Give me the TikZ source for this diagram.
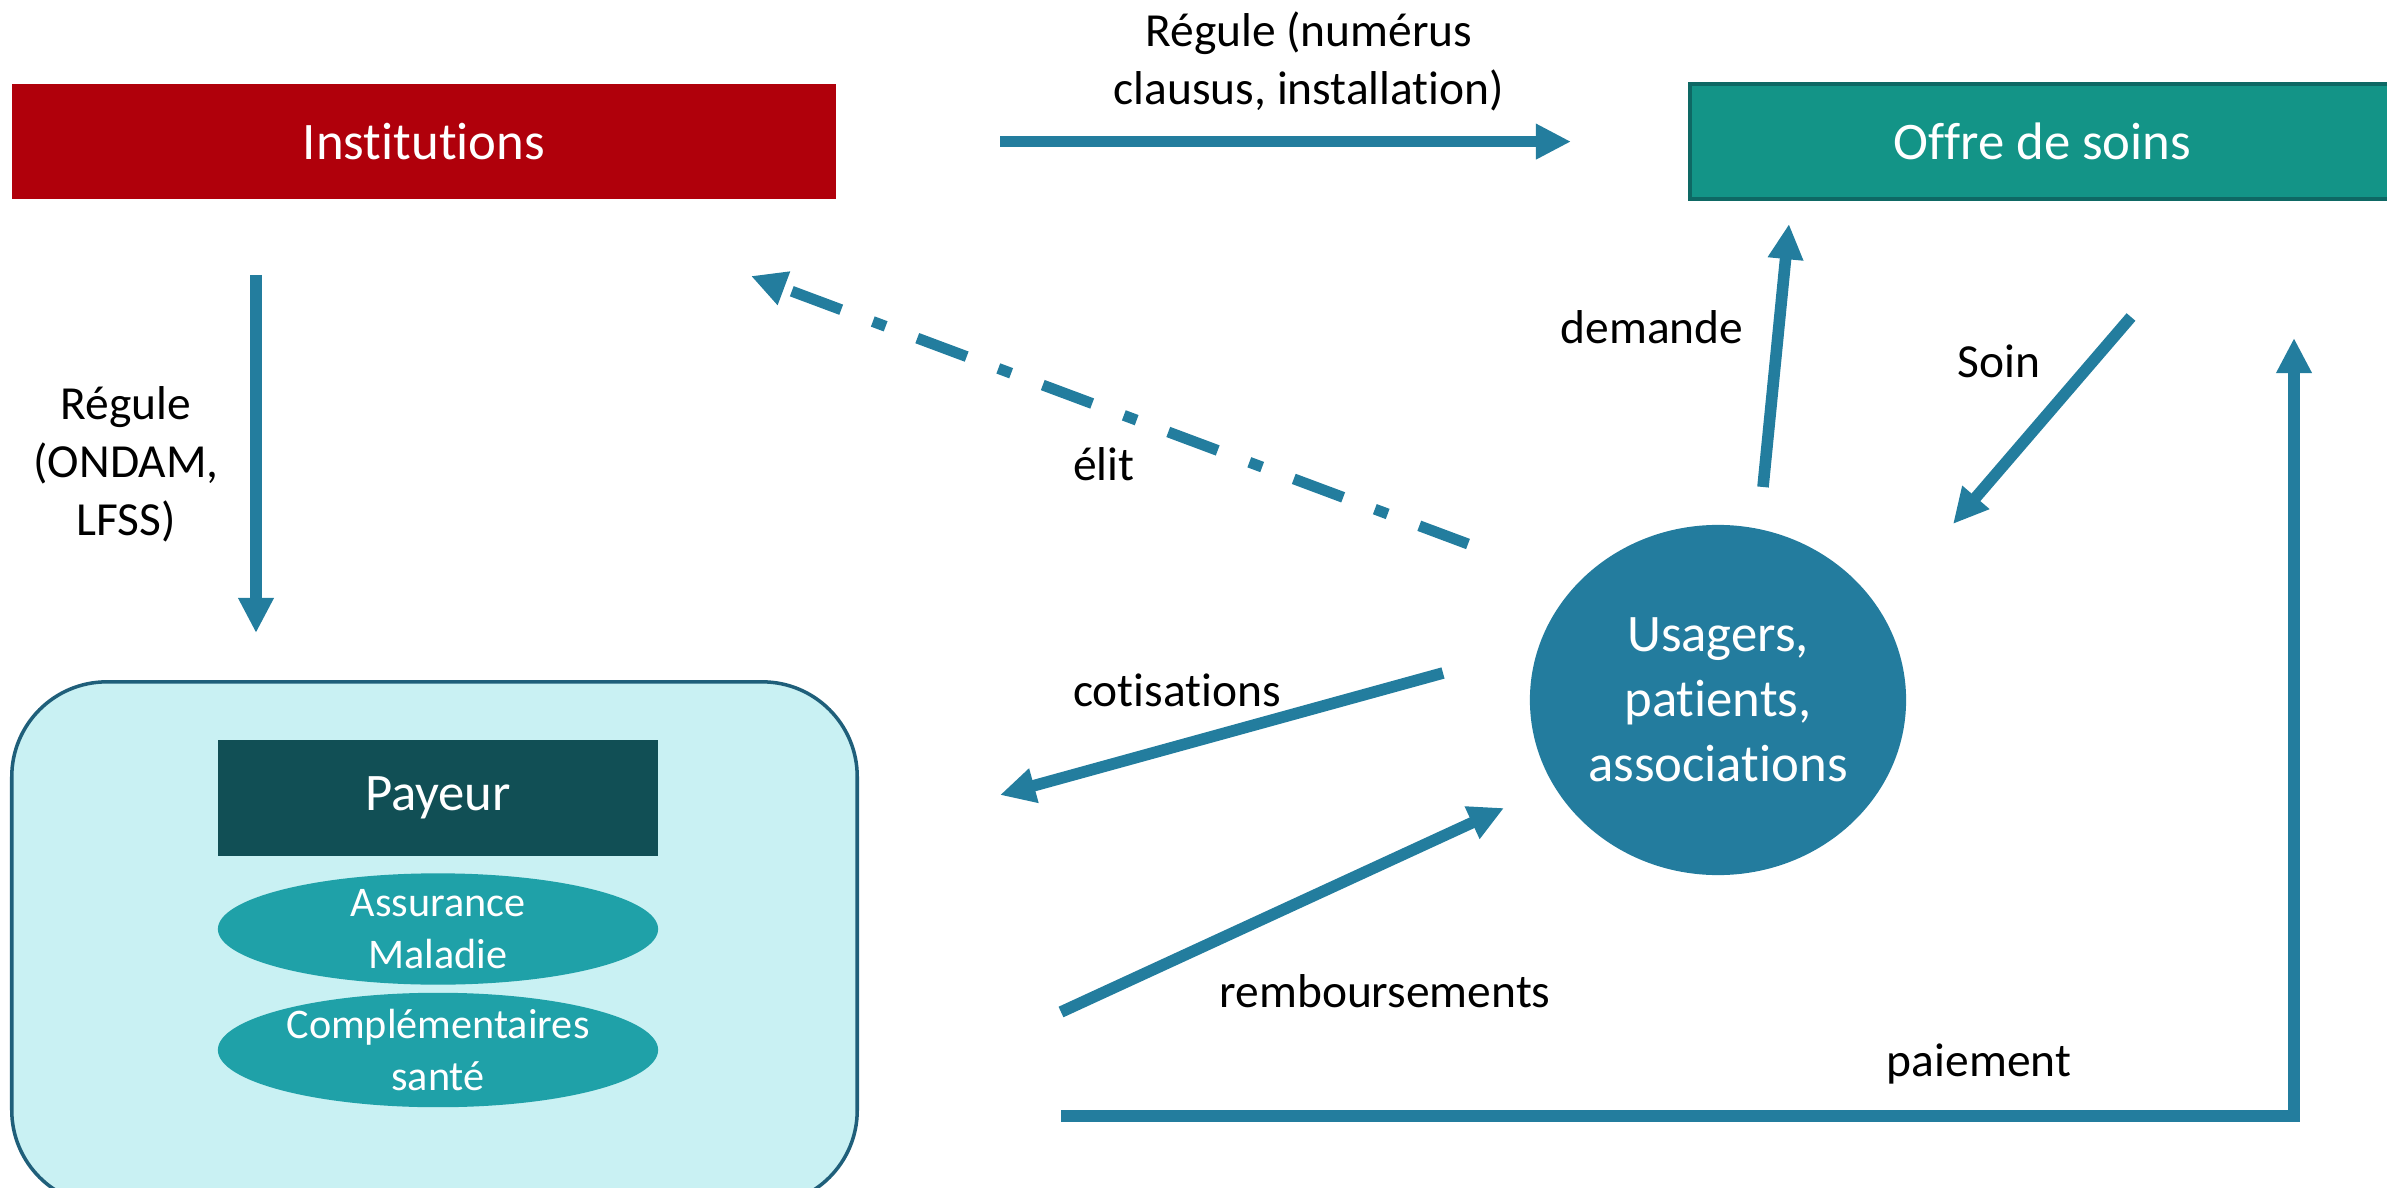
\documentclass[tikz,border=0pt]{standalone}
\usepackage{fontspec}
\setmainfont{Carlito}[Ligatures={NoCommon,NoContextual}, RawFeature={-liga;-clig;-calt;-dlig}]
\usetikzlibrary{arrows.meta,shapes.geometric}
\definecolor{instred}{RGB}{176,0,11}
\definecolor{offreteal}{RGB}{19,148,135}
\definecolor{offreedge}{RGB}{14,104,100}
\definecolor{payfill}{RGB}{201,241,243}
\definecolor{payedge}{RGB}{31,95,122}
\definecolor{payeurdark}{RGB}{17,79,85}
\definecolor{ovalteal}{RGB}{31,161,168}
\definecolor{usagblue}{RGB}{35,124,158}
\definecolor{flowblue}{RGB}{35,125,158}
\tikzset{
  box/.style={rectangle, inner sep=0pt, text=white, font=\fontsize{15}{18.3}\selectfont},
  oval/.style={ellipse, inner sep=0pt, fill=ovalteal, text=white, align=center,
    minimum width=4.40cm, minimum height=0.99cm, font=\fontsize{12}{14.6}\selectfont},
  lbl/.style={text=black, align=center, font=\fontsize{13.5}{16.5}\selectfont},
  flow/.style={draw=flowblue, line width=3.3pt, -{Triangle[length=10pt,width=9.5pt]}},
  elitflow/.style={draw=flowblue, line width=3.1pt, {Triangle[length=10pt,width=9.5pt]}-,
    dash pattern=on 15pt off 9.6pt on 3.9pt off 9.6pt, dash phase=35.1pt}
}
\begin{document}
\begin{tikzpicture}[x=0.01cm,y=-0.01cm]
\useasboundingbox (0,0) rectangle (2387,1188);
\begin{scope}
\clip (0,0) rectangle (2387,1188);
% paying bodies container
\node[rectangle, rounded corners=27pt, draw=payedge, line width=1pt, fill=payfill,
  minimum width=8.45cm, minimum height=5.23cm] (payers) at (434.5,943.5) {};
% top boxes
\node[box, fill=instred, minimum width=8.24cm, minimum height=1.15cm] (inst) at (424,141.5) {Institutions};
\node[box, fill=offreteal, draw=offreedge, line width=1pt, minimum width=7.05cm, minimum height=1.15cm] (offre) at (2042.5,141.5) {Offre de soins};
\end{scope}
\node[box, fill=payeurdark, minimum width=4.40cm, minimum height=1.16cm] (payeur) at (438,798) {Payeur};
\node[oval] (am) at (438,929) {Assurance\\Maladie};
\node[oval] (comp) at (438,1050) {Complémentaires\\santé};
% users
\node[ellipse, inner sep=0pt, fill=usagblue, text=white, align=center,
  minimum width=3.76cm, minimum height=3.50cm, font=\fontsize{15}{18.5}\selectfont] (usag) at (1718,700) {Usagers,\\patients,\\associations};

% connector end points
\coordinate (rA) at (1000,141.6);
\coordinate (rB) at (1571,141.6);
\coordinate (dA) at (256,275);
\coordinate (dB) at (256,633);
\coordinate (eA) at (1468,544);
\coordinate (eB) at (751,276);
\coordinate (mA) at (1763,487);
\coordinate (mB) at (1789,224);
\coordinate (sA) at (2131,317);
\coordinate (sB) at (1953,524);
\coordinate (cA) at (1443,673);
\coordinate (cB) at (1000,795);
\coordinate (bA) at (1061,1012);
\coordinate (bB) at (1504,808);
\coordinate (pA) at (1061,1116);
\coordinate (pC) at (2294,1116);
\coordinate (pB) at (2294,338);

% flows
\draw[flow] (rA) -- (rB);
\draw[flow] (dA) -- (dB);
\draw[elitflow] (eB) -- (eA);
\draw[flow] (mA) -- (mB);
\draw[flow] (sA) -- (sB);
\draw[flow] (cA) -- (cB);
\draw[flow] (bA) -- (bB);
\draw[flow, line join=miter] (pA) -- (pC) -- (pB);

% flow labels
\node[lbl] (lregA) at (1309,61) {Régule (numérus\\clausus, installation)};
\node[lbl] (lregB) at (126,464) {Régule\\(ONDAM,\\LFSS)};
\node[lbl] (lelit) at (1104,464) {élit};
\node[lbl] (ldem) at (1652,327) {demande};
\node[lbl] (lsoin) at (1999,361) {Soin};
\node[lbl] (lcot) at (1177,690) {cotisations};
\node[lbl] (lremb) at (1385,991) {remboursements};
\node[lbl] (lpai) at (1979,1064) {paiement};
\end{tikzpicture}
\end{document}
